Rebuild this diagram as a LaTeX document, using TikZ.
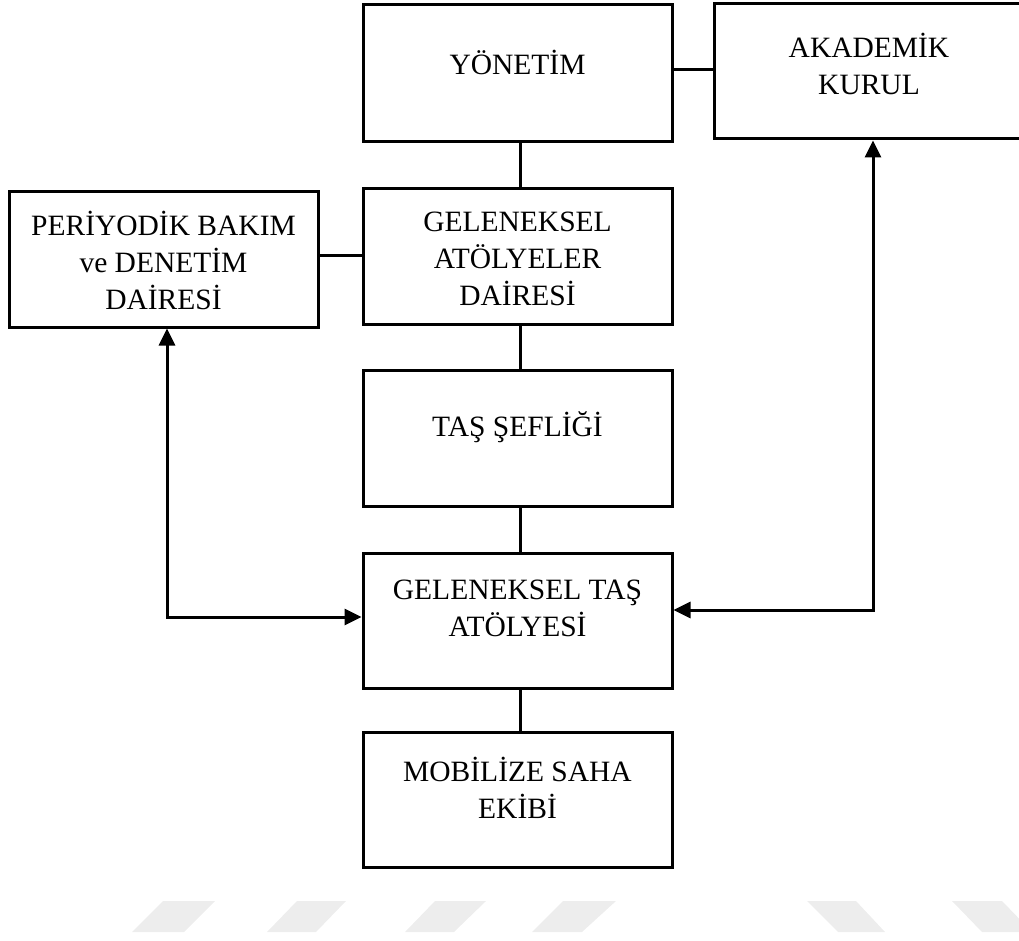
\documentclass[tikz,border=0pt]{standalone}
\usepackage{fontspec}
\setmainfont{Liberation Serif}
\usetikzlibrary{arrows.meta}
\definecolor{wmark}{RGB}{237,237,237}
\begin{document}
\begin{tikzpicture}[x=1pt,y=-1pt,
  boxnode/.style={draw, line width=3pt, inner sep=0pt},
  lbl/.style={font=\fontsize{29.5}{37}\selectfont, align=center, inner sep=0pt},
  conn/.style={line width=3pt},
  arr/.style={line width=3pt, {Triangle[length=17pt,width=16pt]}-{Triangle[length=17pt,width=16pt]}},
  wm/.style={fill=wmark, draw=none}]
\useasboundingbox (0,0) rectangle (1019,941);
\clip (0,0) rectangle (1019,941);
% watermark
\fill[wm] (163,901) -- (215,901) -- (184,932) -- (132,932) -- cycle;
\fill[wm] (297,901) -- (346,901) -- (316,932) -- (267,932) -- cycle;
\fill[wm] (435,901) -- (486,901) -- (454,932) -- (405,932) -- cycle;
\fill[wm] (563,901) -- (616,901) -- (582,932) -- (532,932) -- cycle;
\fill[wm] (807,901) -- (856,901) -- (885,932) -- (838,932) -- cycle;
\fill[wm] (952,901) -- (1002,901) -- (1032,932) -- (982,932) -- cycle;
% boxes
\node[boxnode, minimum width=309pt, minimum height=137pt] (yon) at (517.5,73.5) {};
\node[boxnode, minimum width=310pt, minimum height=135pt] (aka) at (869,71.5) {};
\node[boxnode, minimum width=309pt, minimum height=135pt] (per) at (163.5,259.5) {};
\node[boxnode, minimum width=309pt, minimum height=135pt] (gad) at (517.5,256.5) {};
\node[boxnode, minimum width=309pt, minimum height=136pt] (tas) at (517.5,438) {};
\node[boxnode, minimum width=309pt, minimum height=135pt] (gta) at (517.5,620.5) {};
\node[boxnode, minimum width=309pt, minimum height=135pt] (mob) at (517.5,799.5) {};
% labels
\node[lbl] (tyon) at (517.5,62) {YÖNETİM};
\node[lbl] (taka) at (869,63.5) {AKADEMİK\\KURUL};
\node[lbl] (tper) at (163.5,260) {PERİYODİK BAKIM\\ve DENETİM\\DAİRESİ};
\node[lbl] (tgad) at (517.5,259) {GELENEKSEL\\ATÖLYELER\\DAİRESİ};
\node[lbl] (ttas) at (517.5,427) {TAŞ ŞEFLİĞİ};
\node[lbl] (tgta) at (517.5,608.5) {GELENEKSEL TAŞ\\ATÖLYESİ};
\node[lbl] (tmob) at (517.5,788) {MOBİLİZE SAHA\\EKİBİ};
% connectors
\coordinate (ya) at (672,70);
\draw[conn] (ya) -- (ya -| aka.west);
\coordinate (pg) at (318,255);
\draw[conn] (pg) -- (pg -| gad.west);
\coordinate (vx) at (520,0);
\draw[conn] (yon.south -| vx) -- (gad.north -| vx);
\draw[conn] (gad.south -| vx) -- (tas.north -| vx);
\draw[conn] (tas.south -| vx) -- (gta.north -| vx);
\draw[conn] (gta.south -| vx) -- (mob.north -| vx);
\coordinate (lc) at (167,617);
\draw[arr] (per.south -| lc) -- (lc) -- (lc -| gta.west);
\coordinate (rc) at (873,610);
\draw[arr] (aka.south -| rc) -- (rc) -- (rc -| gta.east);
\end{tikzpicture}
\end{document}
